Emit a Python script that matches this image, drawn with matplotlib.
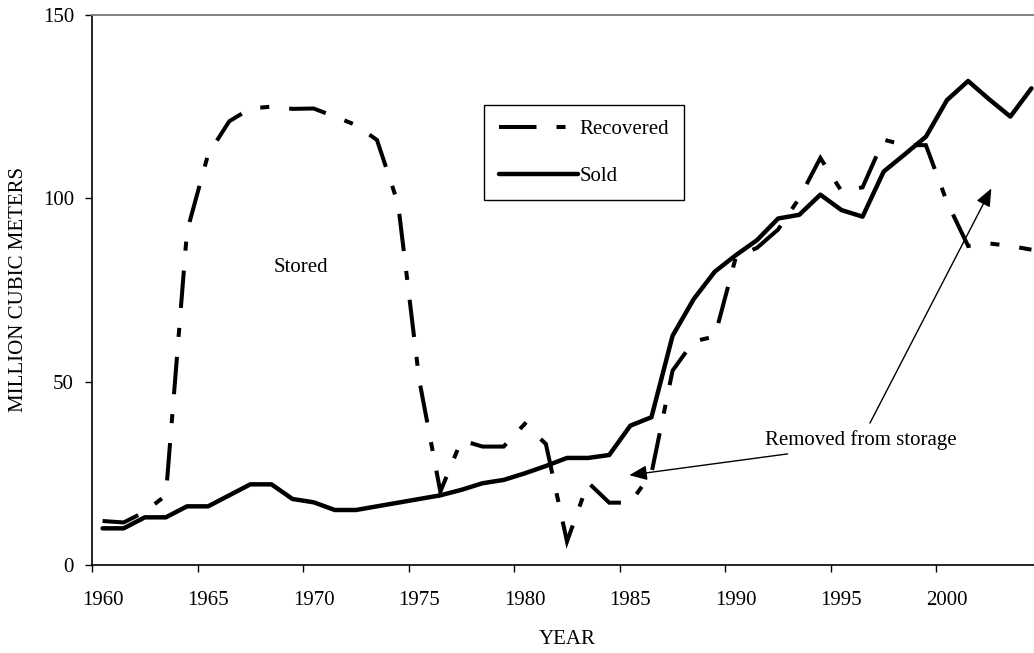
import matplotlib
matplotlib.use("Agg")
import matplotlib.pyplot as plt

plt.rcParams['font.family'] = ['Liberation Serif', 'DejaVu Serif']
plt.rcParams['lines.scale_dashes'] = False

# one category per year, 1960..2004 (Excel category axis)
years = list(range(1960, 2005))

recovered = [12, 11.6, 14.5, 19, 91, 112, 121, 124.5, 125, 124.4,
             124.5, 122.3, 120, 115.9, 98.5, 50.5, 20, 34, 32.3, 32.3,
             38.5, 33, 6.4, 22.5, 17, 17, 25, 53, 61, 62.3,
             84, 86.5, 91.5, 100, 111, 102, 103, 116, 114.5, 114.5,
             99, 87, 87.7, 87, 86]

sold = [10, 10, 13, 13, 16, 16, 19, 22, 22, 18,
        17.1, 15, 15, 16, 17, 18, 19, 20.5, 22.3, 23.2,
        25, 27, 29.2, 29.2, 30, 38, 40.3, 62.5, 72.5, 80,
        84.5, 88.6, 94.5, 95.5, 101, 96.8, 95, 107.3, 112, 116.8,
        126.8, 132, 127, 122.3, 130]

tick_years = [1960, 1965, 1970, 1975, 1980, 1985, 1990, 1995, 2000]
y_ticks = [0, 50, 100, 150]

fig = plt.figure(figsize=(10.34, 6.53), dpi=100)
# plot area runs a little past the right edge of the picture (cropped original)
ax = fig.add_axes([92 / 1034, 88 / 653, 950 / 1034, 550 / 653])

ax.plot(years, recovered, color='black', lw=2.9,
        dashes=(27, 14.4, 6.5, 14.4), dash_capstyle='butt',
        dash_joinstyle='miter', label='Recovered')
ax.plot(years, sold, color='black', lw=3.2, solid_capstyle='round',
        solid_joinstyle='round', label='Sold')

ax.set_xlim(1959.5, 2004.5)
ax.set_ylim(0, 150)

# ticks sit on category boundaries, labels in the category centres
ax.set_xticks([y - 0.5 for y in tick_years])
ax.set_xticklabels([])
ax.set_xticks(tick_years, minor=True)
ax.set_xticklabels([str(y) for y in tick_years], minor=True)
ax.tick_params(axis='x', which='major', direction='out', length=5, width=1)
ax.tick_params(axis='x', which='minor', length=0, pad=19, labelsize=15)
ax.set_yticks(y_ticks)
ax.tick_params(axis='y', direction='out', length=5, width=1, pad=8, labelsize=15)

for side in ['left', 'bottom']:
    ax.spines[side].set_color('black')
    ax.spines[side].set_linewidth(1.2)
ax.spines['top'].set_color('#808080')
ax.spines['top'].set_linewidth(1.4)
ax.spines['right'].set_visible(False)

ax.set_xlabel('YEAR', fontsize=15)
ax.xaxis.set_label_coords(0.5, -0.118)
ax.set_ylabel('MILLION CUBIC METERS', fontsize=15)
ax.yaxis.set_label_coords(-0.067, 0.5)

leg = ax.legend(loc='upper left', bbox_to_anchor=(484 / 1034, 1 - 105 / 653),
                bbox_transform=fig.transFigure, fontsize=15, frameon=True,
                fancybox=False, framealpha=1, edgecolor='black',
                handlelength=3.8, handletextpad=0.1, labelspacing=1.3,
                borderpad=0.7, borderaxespad=0)
leg.get_frame().set_linewidth(1)

ax.text(1969.4, 81, 'Stored', fontsize=15, ha='center', va='center')
ax.text(1995.9, 34, 'Removed from storage', fontsize=15, ha='center', va='center')

arrow = dict(arrowstyle='-|>,head_length=0.6,head_width=0.25',
             mutation_scale=18, color='black', lw=1, shrinkA=0, shrinkB=0)
ax.annotate('', xy=(1984.95, 24.5), xytext=(1992.45, 30.3), arrowprops=arrow)
ax.annotate('', xy=(2002.1, 102.7), xytext=(1996.35, 38.7), arrowprops=arrow)

fig.savefig('out.png', dpi=100)
